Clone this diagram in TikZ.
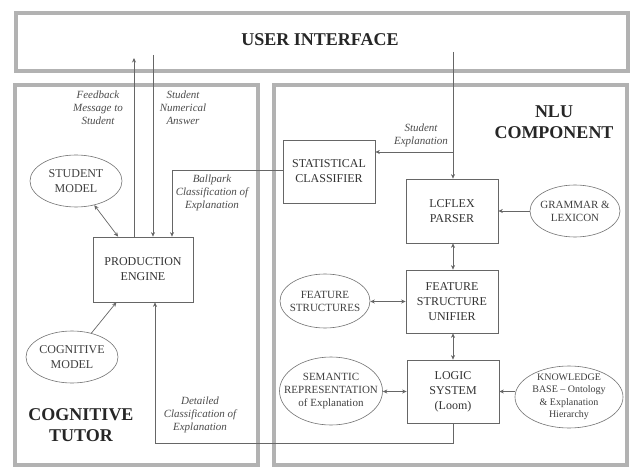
\documentclass[tikz,border=0pt]{standalone}
\usepackage{fontspec}
\setmainfont{Liberation Serif}
\usetikzlibrary{arrows.meta,shapes.geometric}
\begin{document}
\begin{tikzpicture}[x=1pt,y=-1pt,
  panel/.style={draw=black!30, line width=3.2pt, inner sep=0},
  box/.style={draw=black!60, line width=0.7pt, align=center, inner sep=0,
    text=black!80, font=\fontsize{12}{15}\selectfont},
  ell/.style={draw=black!55, line width=0.6pt, ellipse, inner sep=0},
  etext/.style={align=center, text=black!75, font=\fontsize{11}{13}\selectfont},
  etexts/.style={align=center, text=black!75, font=\fontsize{10}{12.5}\selectfont},
  etextb/.style={align=center, text=black!75, font=\fontsize{12}{15}\selectfont},
  lab/.style={align=center, text=black!70, font=\fontsize{11}{13}\selectfont\itshape},
  title/.style={align=center, text=black!85, font=\fontsize{18}{21}\selectfont\bfseries},
  conn/.style={draw=black!60, line width=0.7pt},
  arr/.style={conn, -{Stealth[length=4.5pt,width=4pt]}},
  arrr/.style={conn, {Stealth[length=4.5pt,width=4pt]}-{Stealth[length=4.5pt,width=4pt]}}]
\useasboundingbox (0,0) rectangle (630,468);
\fill[white] (0,0) rectangle (630,468);

% panels
\node[panel, minimum width=612pt, minimum height=58pt] (ui) at (322,42) {};
\node[title] (uit) at (320,40) {USER INTERFACE};
\node[panel, minimum width=243pt, minimum height=380pt] (left) at (136.5,275) {};
\node[panel, minimum width=353pt, minimum height=380pt] (right) at (450.5,275) {};
\node[title] (nlu) at (554,122) {NLU\\COMPONENT};
\node[title] (ct) at (81,425) {COGNITIVE\\TUTOR};

% boxes
\node[box, minimum width=92pt, minimum height=63pt] (stat) at (329,171.5) {STATISTICAL\\CLASSIFIER};
\node[box, minimum width=100pt, minimum height=65pt] (pe) at (143,269.5) {PRODUCTION\\ENGINE};
\node[box, minimum width=92pt, minimum height=64pt] (lcf) at (452,211) {LCFLEX\\PARSER};
\node[box, minimum width=92pt, minimum height=63pt] (fsu) at (452,301.5) {FEATURE\\STRUCTURE\\UNIFIER};
\node[box, minimum width=92pt, minimum height=63pt] (logic) at (453,391.5) {LOGIC\\SYSTEM\\(Loom)};

% ellipses
\node[ell, minimum width=92pt, minimum height=52pt,
  label={[etextb]center:STUDENT\\MODEL}] (smodel) at (76,181) {};
\node[ell, minimum width=92pt, minimum height=52pt,
  label={[etextb]center:COGNITIVE\\MODEL}] (cmodel) at (72,357) {};
\node[ell, minimum width=90pt, minimum height=52pt,
  label={[etext]center:GRAMMAR \&\\LEXICON}] (gram) at (575,211) {};
\node[ell, minimum width=90pt, minimum height=54pt,
  label={[etext]center:FEATURE\\STRUCTURES}] (fstr) at (325,301) {};
\node[ell, minimum width=103pt, minimum height=68pt,
  label={[etext]center:SEMANTIC\\REPRESENTATION\\of Explanation}] (sem) at (331,391) {};
\node[ell, minimum width=108pt, minimum height=62pt,
  label={[etexts]center:KNOWLEDGE\\BASE -- Ontology\\\& Explanation\\Hierarchy}] (kb) at (569,397) {};

% labels
\node[lab] (lfb) at (98,108) {Feedback\\Message to\\Student};
\node[lab] (lsna) at (183,108) {Student\\Numerical\\Answer};
\node[lab] (lbp) at (212,193) {Ballpark\\Classification of\\Explanation};
\node[lab] (lse) at (421,135) {Student\\Explanation};
\node[lab] (ldc) at (200,415) {Detailed\\Classification of\\Explanation};

% coordinates
\coordinate (fbtop) at (134,58);
\coordinate (natop) at (153,55);
\coordinate (setop) at (453,52);
\coordinate (sebr) at (453,152);
\coordinate (bp) at (172,170);
\coordinate (dc) at (155,443);

% connectors
\draw[arr] (pe.north -| fbtop) -- (fbtop);
\draw[arr] (natop) -- (pe.north -| natop);
\draw[arr] (stat.west |- bp) -- (bp) -- (pe.north -| bp);
\draw[arr] (setop) -- (lcf.north -| setop);
\draw[arr] (sebr) -- (stat.east |- sebr);
\draw[arrr] (smodel) -- (pe);
\draw[arr] (cmodel) -- (pe);
\draw[arr] (logic.south -| setop) -- (dc -| setop) -- (dc) -- (pe.south -| dc);
\draw[arr] (gram) -- (lcf);
\draw[arrr] (lcf.south -| setop) -- (fsu.north -| setop);
\draw[arrr] (fsu.south -| setop) -- (logic.north -| setop);
\draw[arrr] (fsu.west) -- (fsu.west -| fstr.east);
\draw[arrr] (logic.west) -- (logic.west -| sem.east);
\draw[arr] (logic.east -| kb.west) -- (logic.east);
\end{tikzpicture}
\end{document}
